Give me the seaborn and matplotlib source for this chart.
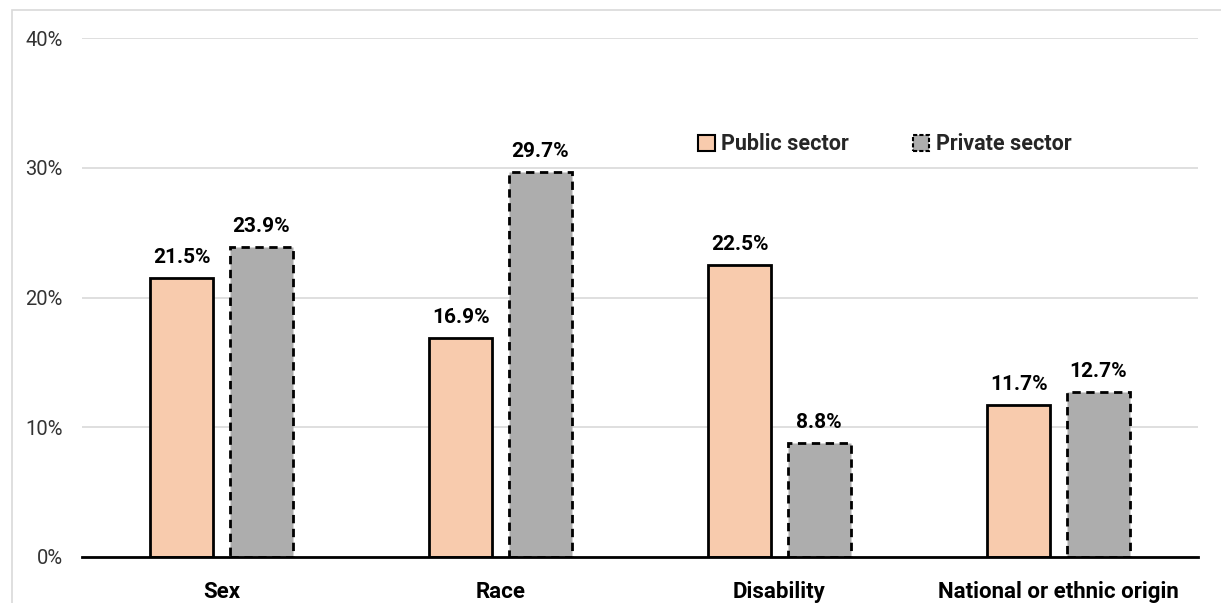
import matplotlib
matplotlib.use("Agg")
import matplotlib.pyplot as plt
from matplotlib.patches import Patch, Rectangle
import seaborn as sns
import pandas as pd

categories = ["Sex", "Race", "Disability", "National or ethnic origin"]
public_sector = [21.5, 16.9, 22.5, 11.7]
private_sector = [23.9, 29.7, 8.8, 12.7]
series_names = ["Public sector", "Private sector"]
y_ticks = [0, 10, 20, 30, 40]

df = pd.DataFrame({
    "category": categories * 2,
    "value": public_sector + private_sector,
    "sector": [series_names[0]] * 4 + [series_names[1]] * 4,
})

sns.set_theme(style="white")
plt.rcParams["font.family"] = ["Roboto", "DejaVu Sans"]

colors = {"Public sector": "#F8CBAD", "Private sector": "#ADADAD"}

fig = plt.figure(figsize=(12.21, 6.03), dpi=100)
ax = fig.add_axes([82 / 1221, 1 - 557 / 603, (1198 - 82) / 1221, (557 - 38) / 603])

sns.barplot(data=df, x="category", y="value", hue="sector", order=categories,
            hue_order=series_names, palette=colors, saturation=1,
            width=0.57, gap=0.207, edgecolor="black", linewidth=2,
            ax=ax, legend=False, zorder=3)

# dashed outline for the private-sector bars
for container, name in zip(ax.containers, series_names):
    for bar in container:
        if name == "Private sector":
            bar.set_linestyle((0, (3, 2)))
    labels = [f"{v:.1f}%" for v in container.datavalues]
    ax.bar_label(container, labels=labels, padding=8, fontsize=15,
                 fontweight="bold", color="black")

ax.set_ylim(0, 40)
ax.set_xlim(-0.5, 3.5)
ax.set_yticks(y_ticks)
ax.set_yticklabels([f"{t}%" for t in y_ticks], fontsize=14.5, color="#333333")
ax.tick_params(axis="y", length=0, pad=14)
ax.tick_params(axis="x", length=0, pad=17)
for lbl in ax.get_xticklabels():
    lbl.set_fontsize(16)
    lbl.set_fontweight("bold")
    lbl.set_color("black")
ax.set_xlabel("")
ax.set_ylabel("")
ax.yaxis.grid(True, color="#D9D9D9", linewidth=1.2, zorder=0)
ax.set_axisbelow(True)
for side in ["top", "right", "left"]:
    ax.spines[side].set_visible(False)
ax.spines["bottom"].set_color("black")
ax.spines["bottom"].set_linewidth(2)
ax.spines["bottom"].set_zorder(4)

handles = [
    Patch(facecolor=colors["Public sector"], edgecolor="black", linewidth=1.5),
    Patch(facecolor=colors["Private sector"], edgecolor="black", linewidth=1.5,
          linestyle=(0, (2, 1))),
]
leg = ax.legend(handles, series_names, loc="center", bbox_to_anchor=(0.7195, 0.795),
                ncol=2, frameon=False, handlelength=0.75, handleheight=0.75,
                handletextpad=0.3, columnspacing=3.0,
                prop={"weight": "bold", "size": 15.5})

# light frame around the chart area
fig.patches.append(Rectangle((12 / 1221, -0.1), 1.2, 1 - 10 / 603 + 0.1,
                             transform=fig.transFigure, fill=False,
                             edgecolor="#D9D9D9", linewidth=1.2))

fig.savefig("out.png", dpi=100, facecolor="white")
